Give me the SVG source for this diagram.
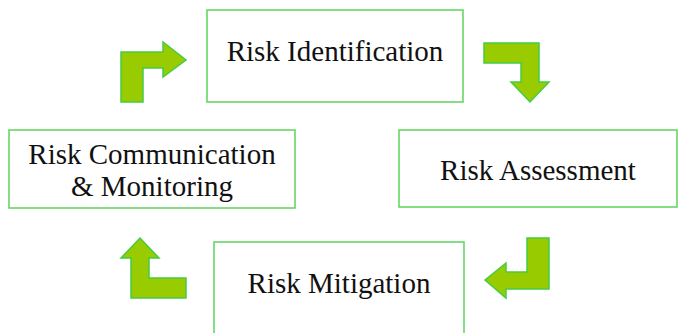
<svg xmlns="http://www.w3.org/2000/svg" width="679" height="333" viewBox="0 0 679 333">
<style>
.box{fill:#fff;stroke:#5cd35c;stroke-width:1.5}
.lbl{font-family:"Liberation Serif","Times New Roman",serif;font-size:29px;fill:#111;text-anchor:middle}
.arr{fill:#99cc00;stroke:#44cc44;stroke-width:1.5;stroke-linejoin:miter}
</style>
<rect width="679" height="333" fill="#fff"/>
<g id="connectors">
<polygon class="arr" points="121,102 121,52 163,52 163,42 186,60 163,77 163,68 143,68 143,102"/>
<polygon class="arr" points="484,43 539,43 539,82 549,82 530,102 511,82 521,82 521,63 484,63"/>
<polygon class="arr" points="527,238 549,238 549,289 506,289 506,298 485,280 506,263 506,272 527,272"/>
<polygon class="arr" points="186,298 131,298 131,258 121,258 140,238 159,258 149,258 149,278 186,278"/>
</g>
<g id="risk-identification">
<rect class="box" x="207" y="10" width="256" height="92"/>
<text class="lbl" x="335" y="61">Risk Identification</text>
</g>
<g id="risk-assessment">
<rect class="box" x="399" y="130" width="278" height="77"/>
<text class="lbl" x="538" y="180">Risk Assessment</text>
</g>
<g id="risk-mitigation">
<rect class="box" x="214" y="242" width="250" height="100"/>
<text class="lbl" x="339" y="293">Risk Mitigation</text>
</g>
<g id="risk-communication">
<rect class="box" x="9" y="130" width="286" height="78"/>
<text class="lbl" x="152" y="164">Risk Communication</text>
<text class="lbl" x="152" y="196">&amp; Monitoring</text>
</g>
</svg>
